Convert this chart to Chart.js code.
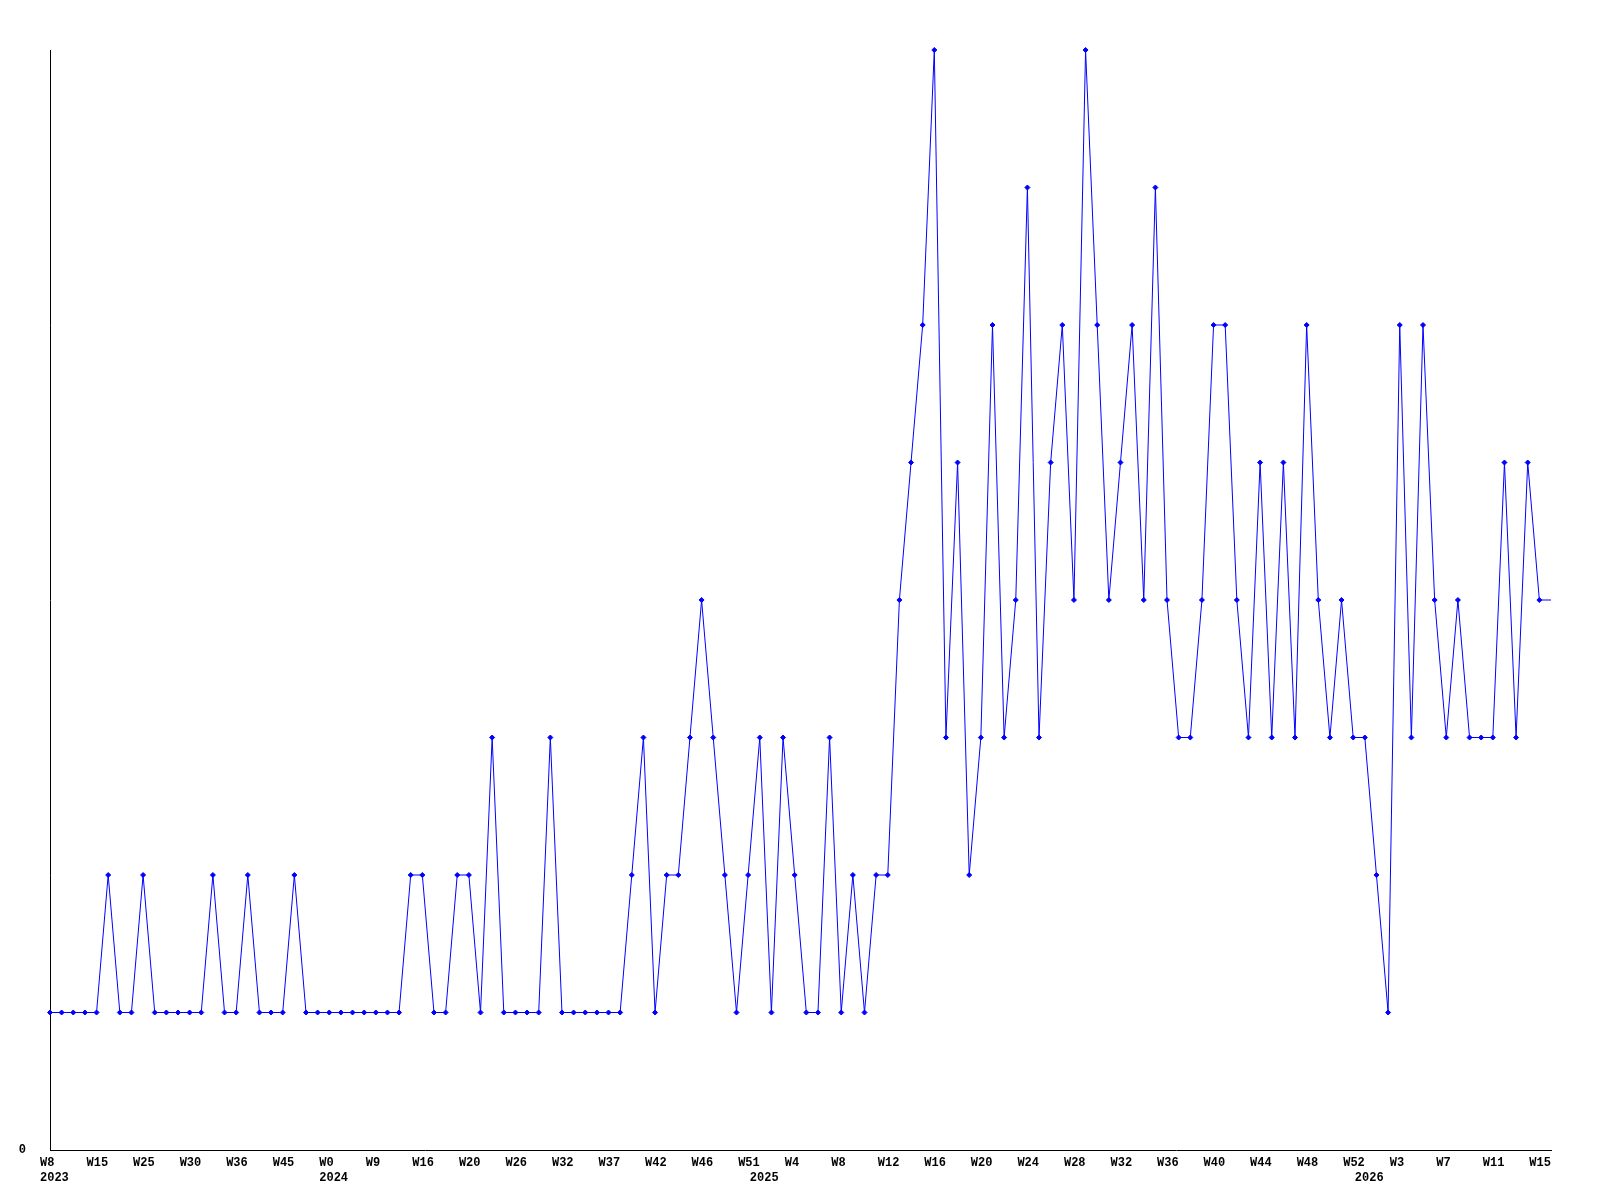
<!DOCTYPE html>
<html>
<head>
<meta charset="utf-8">
<script src="https://cdn.jsdelivr.net/npm/chart.js@4/dist/chart.umd.min.js"></script>
<style>
  html, body { margin: 0; padding: 0; background: #fff; }
  #wrap { width: 1600px; height: 1200px; }
</style>
</head>
<body>
<div id="wrap"><canvas id="weekChart"></canvas></div>
<script>
// week numbers per year, one per data point
const weeks2023 = [8, 9, 11, 13, 15, 17, 19, 22, 25, 26, 28, 29, 30, 32, 33, 35, 36, 38, 40, 43, 45, 47, 49, 51];
const weeks2024 = [0, 2, 4, 7, 9, 11, 13, 14, 16, 17, 18, 19, 20, 22, 23, 25, 26, 28, 29, 31, 32, 33, 35, 36, 37,
  38, 40, 41, 42, 43, 44, 45, 46, 47, 49, 50, 51];
const weeks2025 = [1, 2, 3, 4, 5, 6, 7, 8, 9, 10, 11, 12, 13, 14, 15, 16, 17, 18, 19, 20, 21, 22, 23, 24, 25, 26,
  27, 28, 29, 30, 31, 32, 33, 34, 35, 36, 37, 38, 39, 40, 41, 42, 43, 44, 45, 46, 47, 48, 49, 50, 51, 52];
const weeks2026 = [0, 1, 2, 3, 4, 5, 6, 7, 8, 9, 10, 11, 12, 13, 14, 15, 16];

const counts = [
  1, 1, 1, 1, 1, 2, 1, 1, 2, 1, 1, 1, 1, 1, 2, 1, 1, 2, 1, 1, 1, 2, 1, 1,
  1, 1, 1, 1, 1, 1, 1, 2, 2, 1, 1, 2, 2, 1, 3, 1, 1, 1, 1, 3, 1, 1, 1, 1, 1, 1,
  2, 3, 1, 2, 2, 3, 4, 3, 2, 1, 2,
  3, 1, 3, 2, 1, 1, 3, 1, 2, 1, 2, 2, 4, 5, 6, 8, 3, 5, 2, 3, 6, 3, 4, 7, 3, 5,
  6, 4, 8, 6, 4, 5, 6, 4, 7, 4, 3, 3, 4, 6, 6, 4, 3, 5, 3, 5, 3, 6, 4, 3, 4, 3,
  3, 2, 1, 6, 3, 6, 4, 3, 4, 3, 3, 3, 5, 3, 5, 4, 4
];

// build category list
const labels = [];
const yearStart = {};
[[2023, weeks2023], [2024, weeks2024], [2025, weeks2025], [2026, weeks2026]].forEach(([yr, wks]) => {
  yearStart[labels.length] = String(yr);
  wks.forEach((w) => labels.push("W" + w));
});

const last = counts.length - 1;
const axisFont = { family: "Liberation Mono", size: 12, weight: "bold", lineHeight: 1.25 };

const ctx = document.getElementById("weekChart").getContext("2d");

new Chart(ctx, {
  type: "line",
  data: {
    labels: labels,
    datasets: [
      {
        data: counts,
        borderColor: "#0000ff",
        backgroundColor: "#0000ff",
        borderWidth: 1,
        tension: 0,
        fill: false,
        pointStyle: "rectRot",
        pointRadius: (c) => (c.dataIndex === last ? 0 : 2.5),
        pointBorderWidth: 1,
        clip: false,
      },
    ],
  },
  options: {
    responsive: true,
    maintainAspectRatio: false,
    animation: false,
    layout: { padding: { left: 0, top: 50, right: 49, bottom: 0 } },
    scales: {
      x: {
        offset: false,
        grid: { display: false, drawTicks: false },
        border: { display: true, color: "#000", width: 1 },
        ticks: {
          autoSkip: false,
          maxRotation: 0,
          minRotation: 0,
          align: "start",
          labelOffset: -10,
          padding: 5,
          color: "#000",
          font: axisFont,
          callback: (val, i) => {
            const top = i % 4 === 0 ? labels[i] : "";
            const yr = yearStart[i] || "";
            if (!top && !yr) return "";
            return yr ? [top, yr] : [top];
          },
        },
        afterFit: (scale) => { scale.height = 50; },
      },
      y: {
        min: 0,
        max: 8,
        grid: { display: false, drawTicks: false },
        border: { display: true, color: "#000", width: 1 },
        ticks: {
          stepSize: 8,
          padding: 24,
          color: "#000",
          font: axisFont,
          callback: (v) => (v === 0 ? "0" : ""),
        },
        afterFit: (scale) => { scale.width = 50; },
      },
    },
    plugins: {
      legend: { display: false },
      title: { display: false },
      tooltip: { enabled: false },
    },
  },
});
</script>
</body>
</html>
